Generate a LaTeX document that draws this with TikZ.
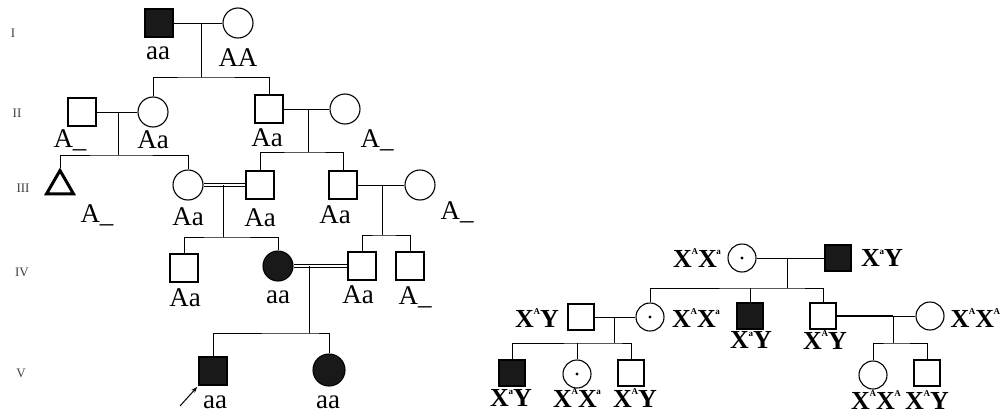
\documentclass[tikz,border=0pt]{standalone}
\usepackage{fontspec}
\setmainfont{Liberation Serif}
\usetikzlibrary{shapes.geometric,arrows.meta}
\newcommand\xg[1]{X\kern-0.5pt\raisebox{0.48em}{\fontsize{9}{9}\selectfont #1}}

\begin{document}
\begin{tikzpicture}[x=1pt,y=-1pt,line width=1pt,
    male/.style={draw, rectangle, minimum size=28pt, inner sep=0pt, line width=1.1pt},
    female/.style={draw, circle, minimum size=30pt, inner sep=0pt, line width=1.1pt},
    rmale/.style={male, minimum size=26pt},
    rfemale/.style={female, minimum size=28pt},
    ill/.style={fill=black!90},
    carrier/.style={path picture={\fill (path picture bounding box.center) circle (1.6pt);}},
    gt/.style={font=\fontsize{27}{27}\selectfont, inner sep=0pt},
    xt/.style={font=\fontsize{26}{26}\selectfont\bfseries, inner sep=0pt},
    gen/.style={font=\fontsize{13}{13}\selectfont, text=black!75}]
    \path[fill=white] (0,0) rectangle (1000,415);
    \useasboundingbox (0,0) rectangle (1000,415);
    \node[gen] (gI) at (13,33) {I};
    \node[gen] (gII) at (17,113) {II};
    \node[gen] (gIII) at (23,188) {III};
    \node[gen] (gIV) at (22,272) {IV};
    \node[gen] (gV) at (21,373) {V};
    \node[male,ill] (I1) at (159,23) {};
    \node[female] (I2) at (238,23) {};
    \node[male] (II1) at (82,112) {};
    \node[female] (II2) at (153,112) {};
    \node[male] (II3) at (269,109) {};
    \node[female] (II4) at (345,109) {};
    \node[draw, regular polygon, regular polygon sides=3, minimum size=31pt, inner sep=0pt, line width=3pt] (III1) at (60,186) {};
    \node[female] (III2) at (188,185) {};
    \node[male] (III3) at (260,185) {};
    \node[male] (III4) at (343,185) {};
    \node[female] (III5) at (420,185) {};
    \node[male] (IV1) at (184,268) {};
    \node[female,ill] (IV2) at (278,266) {};
    \node[male] (IV3) at (362,266) {};
    \node[male] (IV4) at (410,266) {};
    \node[male,ill] (V1) at (213,371) {};
    \node[female,ill,minimum size=32pt] (V2) at (329,370) {};
    \coordinate (c1) at (201,23);
    \coordinate (s1) at (201,77);
    \coordinate (c2) at (118,112);
    \coordinate (s2) at (118,155);
    \coordinate (c3) at (308,109);
    \coordinate (s3) at (308,152);
    \coordinate (c4) at (223,185);
    \coordinate (s4) at (223,237);
    \coordinate (c5) at (382,185);
    \coordinate (s5) at (382,235);
    \coordinate (c6) at (309,266);
    \coordinate (s6) at (309,333);
    \coordinate (pa) at (180,406);
    \draw (I1) -- (I2);
    \draw (c1) -- (s1);
    \draw (II2) |- (s1) -| (II3);
    \draw (II1) -- (II2);
    \draw (c2) -- (s2);
    \draw (III1) |- (s2) -| (III2);
    \draw (II3) -- (II4);
    \draw (c3) -- (s3);
    \draw (III3) |- (s3) -| (III4);
    \draw[double, double distance=2pt, line width=0.9pt] (III2) -- (III3);
    \draw (c4) -- (s4);
    \draw (IV1) |- (s4) -| (IV2);
    \draw (III4) -- (III5);
    \draw (c5) -- (s5);
    \draw (IV3) |- (s5) -| (IV4);
    \draw[double, double distance=2pt, line width=0.9pt] (IV2) -- (IV3);
    \draw (c6) -- (s6);
    \draw (V1) |- (s6) -| (V2);
    \draw[-{Stealth[length=6pt]}, shorten >=2pt] (pa) -- (V1.south west);
    \node[gt] (tI1) at (158,53) {aa};
    \node[gt] (tI2) at (238,58) {AA};
    \node[gt] (tII1) at (70,140) {A\_};
    \node[gt] (tII2) at (153,140) {Aa};
    \node[gt] (tII3) at (267,138) {Aa};
    \node[gt] (tII4) at (377,140) {A\_};
    \node[gt] (tIII1) at (97,215) {A\_};
    \node[gt] (tIII2) at (188,217) {Aa};
    \node[gt] (tIII3) at (260,218) {Aa};
    \node[gt] (tIII4) at (335,215) {Aa};
    \node[gt] (tIII5) at (457,212) {A\_};
    \node[gt] (tIV1) at (185,298) {Aa};
    \node[gt] (tIV2) at (278,297) {aa};
    \node[gt] (tIV3) at (358,295) {Aa};
    \node[gt] (tIV4) at (415,297) {A\_};
    \node[gt] (tV1) at (215,402) {aa};
    \node[gt] (tV2) at (328,402) {aa};
    \node[rfemale,carrier] (RI1) at (742,258) {};
    \node[rmale,ill] (RI2) at (838,258) {};
    \node[rmale] (RII1) at (581,317) {};
    \node[rfemale,carrier] (RII2) at (650,317) {};
    \node[rmale,ill] (RII3) at (750,316) {};
    \node[rmale] (RII4) at (823,316) {};
    \node[rfemale] (RII5) at (930,316) {};
    \node[rmale,ill] (RIII1) at (512,373) {};
    \node[rfemale,carrier] (RIII2) at (577,374) {};
    \node[rmale] (RIII3) at (631,373) {};
    \node[rfemale] (RIII4) at (873,375) {};
    \node[rmale] (RIII5) at (927,373) {};
    \coordinate (rc1) at (787,258);
    \coordinate (rs1) at (787,288);
    \coordinate (rc2) at (614,317);
    \coordinate (rs2) at (614,343);
    \coordinate (rc3) at (893,316);
    \coordinate (rs3) at (893,343);
    \draw (RI1) -- (RI2);
    \draw (rc1) -- (rs1);
    \draw (RII2) |- (rs1) -| (RII4);
    \draw (RII3) -- (RII3 |- rs1);
    \draw (RII1) -- (RII2);
    \draw (rc2) -- (rs2);
    \draw (RIII1) |- (rs2) -| (RIII3);
    \draw (RIII2) -- (RIII2 |- rs2);
    \draw[line width=2.2pt] (RII4) -- (rc3);
    \draw (rc3) -- (RII5);
    \draw (rc3) -- (rs3);
    \draw (RIII4) |- (rs3) -| (RIII5);
    \node[xt] (xI1) at (697,258) {\xg{A}\xg{a}};
    \node[xt] (xI2) at (882,258) {\xg{a}Y};
    \node[xt] (xII1) at (537,318) {\xg{A}Y};
    \node[xt] (xII2) at (696,318) {\xg{A}\xg{a}};
    \node[xt] (xII3) at (751,340) {\xg{a}Y};
    \node[xt] (xII4) at (825,340) {\xg{A}Y};
    \node[xt, anchor=west] (xII5) at (950,318) {\xg{A}\xg{A}};
    \node[xt] (xIII1) at (511,398) {\xg{a}Y};
    \node[xt] (xIII2) at (577,398) {\xg{A}\xg{a}};
    \node[xt] (xIII3) at (635,398) {\xg{A}Y};
    \node[xt] (xIII4) at (876,400) {\xg{A}\xg{A}};
    \node[xt] (xIII5) at (927,400) {\xg{A}Y};
\end{tikzpicture}
\end{document}
